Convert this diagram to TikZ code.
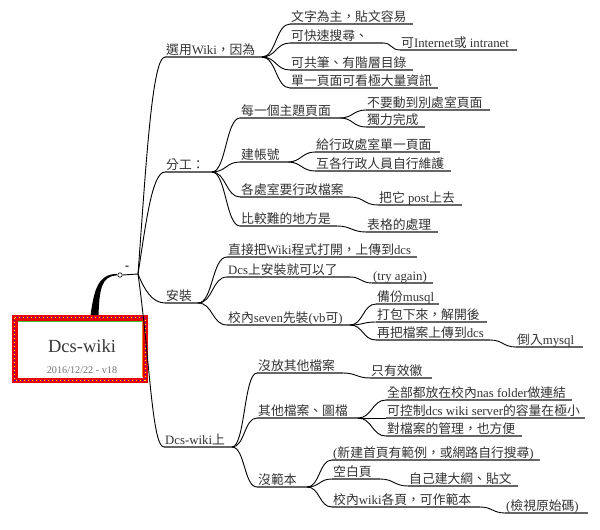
\documentclass[tikz,border=0pt]{standalone}
\usepackage{fontspec}
\setmainfont{Liberation Serif}
\newfontfamily\cjk{Noto Sans CJK TC}
\newcommand\C[1]{{\cjk #1}}
\tikzset{
  lbl/.style={anchor=base west, inner sep=0pt, font=\fontsize{12.8}{14}\selectfont, text=black!80},
  uline/.style={draw=black!60, line width=1.4pt},
  link/.style={draw=black, line width=0.9pt},
}
% name, x start, x end, y underline, text
\newcommand\T[5]{%
  \coordinate (#1-s) at (#2,#4);
  \coordinate (#1-e) at (#3,#4);
  \draw[uline] (#1-s) -- (#1-e);
  \node[lbl] (#1) at (#2+1,#4-2.5) {#5};}
% parent, child, control distance
\newcommand\E[3]{\draw[link] (#1-e) .. controls +(#3,0) and +(-#3,0) .. (#2-s);}
\begin{document}
\begin{tikzpicture}[x=1pt,y=-1pt]
\fill[white] (0,0) rectangle (600,530);
\useasboundingbox (0,0) rectangle (600,530);

% root box
\node[inner sep=0pt, minimum width=136pt, minimum height=68pt] (root) at (80,349) {};
\fill[red!92!black] (root.north west) rectangle (root.south east);
\fill[white] (17.5,320.5) rectangle (142.5,377.5);
\draw[yellow!90!orange, line width=1pt, dash pattern=on 1pt off 3pt] (14.8,317.8) rectangle (145.2,380.2);
\draw[blue!60!violet, line width=1pt, dash pattern=on 1pt off 3pt, dash phase=2pt] (14.8,317.8) rectangle (145.2,380.2);
\draw[green!55!gray, line width=0.6pt] (17.8,320.8) -- (142.2,320.8);
\draw[orange!70!brown, line width=0.8pt] (142.2,320.8) -- (142.2,377.2);
\node[anchor=base, inner sep=0pt, font=\fontsize{18.5}{20}\selectfont, text=black!78] (title) at (82,352) {Dcs-wiki};
\node[anchor=base, inner sep=0pt, font=\fontsize{10.2}{12}\selectfont, text=black!55] (date) at (82,373) {2016/12/22 - v18};

% thick tapered link to hub
\fill[black] (90.5,315) .. controls (94,292) and (97,274) .. (117,273.9) -- (117,275.4) .. controls (101,276) and (99.5,290) .. (98.5,315) -- cycle;
\coordinate (hub) at (138,274);
\node[circle, draw=black, fill=white, inner sep=0pt, minimum size=4.5pt, line width=0.6pt] (knob) at (120,275) {};
\draw[link] (knob.east) -- (hub);
\node[inner sep=0pt, font=\fontsize{12}{12}\selectfont\bfseries] (collapse) at (127,267.5) {-};

% level 1
\T{a}{165}{262}{57}{\C{選用}Wiki\C{，因為}}
\T{b}{165}{212}{172}{\C{分工：}}
\T{c}{165}{198}{303}{\C{安裝}}
\T{d}{164}{232}{447}{Dcs-wiki\C{上}}

\draw[link] (hub) .. controls (146,166) and (152,57) .. (a-s);
\draw[link] (hub) .. controls (146,223) and (152,172) .. (b-s);
\draw[link] (hub) .. controls (144,289) and (152,303) .. (c-s);
\draw[link] (hub) .. controls (150,360) and (152,447) .. (d-s);

% under a
\T{a1}{290}{413}{24}{\C{文字為主，貼文容易}}
\T{a2}{290}{383}{43}{\C{可快速搜尋、}}
\T{a21}{400}{517}{50}{\C{可}Internet\C{或} intranet}
\T{a3}{290}{413}{70}{\C{可共筆、有階層目錄}}
\T{a4}{290}{438}{88}{\C{單一頁面可看極大量資訊}}
\E{a}{a1}{14}\E{a}{a2}{14}\E{a}{a3}{14}\E{a}{a4}{14}
\E{a2}{a21}{9}

% under b
\T{b1}{240}{340}{118}{\C{每一個主題頁面}}
\T{b11}{366}{490}{110}{\C{不要動到別處室頁面}}
\T{b12}{366}{425}{127}{\C{獨力完成}}
\T{b2}{240}{288}{162}{\C{建帳號}}
\T{b21}{315}{440}{152}{\C{給行政處室單一頁面}}
\T{b22}{315}{451}{171}{\C{互各行政人員自行維護}}
\T{b3}{240}{350}{197}{\C{各處室要行政檔案}}
\T{b31}{378}{462}{205}{\C{把它} post\C{上去}}
\T{b4}{240}{337}{226}{\C{比較難的地方是}}
\T{b41}{366}{438}{232}{\C{表格的處理}}
\E{b}{b1}{14}\E{b}{b2}{14}\E{b}{b3}{14}\E{b}{b4}{14}
\E{b1}{b11}{13}\E{b1}{b12}{13}
\E{b2}{b21}{13}\E{b2}{b22}{13}
\E{b3}{b31}{14}
\E{b4}{b41}{14}

% under c
\T{c1}{227}{417}{257}{\C{直接把}Wiki\C{程式打開，上傳到}dcs}
\T{c2}{227}{350}{277}{Dcs\C{上安裝就可以了}}
\T{c21}{372}{433}{283}{(try again)}
\T{c3}{227}{350}{325}{\C{校內}seven\C{先裝}(vb\C{可})}
\T{c31}{376}{439}{304}{\C{備份}musql}
\T{c32}{376}{487}{322}{\C{打包下來，解開後}}
\T{c33}{376}{490}{340}{\C{再把檔案上傳到}dcs}
\T{c331}{516}{583}{347}{\C{倒入}mysql}
\E{c}{c1}{15}\E{c}{c2}{15}\E{c}{c3}{15}
\E{c2}{c21}{11}
\E{c3}{c31}{13}\E{c3}{c32}{13}\E{c3}{c33}{13}
\E{c33}{c331}{13}

% under d
\T{d1}{257}{343}{373}{\C{沒放其他檔案}}
\T{d11}{370}{432}{378}{\C{只有效徽}}
\T{d2}{257}{358}{418}{\C{其他檔案、圖檔}}
\T{d21}{386}{572}{400}{\C{全部都放在校內}nas folder\C{做連結}}
\T{d22}{386}{585}{418}{\C{可控制}dcs wiki server\C{的容量在極小}}
\T{d23}{386}{522}{436}{\C{對檔案的管理，也方便}}
\T{d3}{257}{307}{487}{\C{沒範本}}
\T{d31}{332}{540}{460}{(\C{新建首頁有範例，或網路自行搜尋})}
\T{d32}{332}{380}{479}{\C{空白頁}}
\T{d321}{408}{518}{486}{\C{自己建大綱、貼文}}
\T{d33}{332}{480}{507}{\C{校內}wiki\C{各頁，可作範本}}
\T{d331}{505}{588}{513}{(\C{檢視原始碼})}
\E{d}{d1}{13}\E{d}{d2}{13}\E{d}{d3}{13}
\E{d1}{d11}{13}
\E{d2}{d21}{14}\E{d2}{d22}{14}\E{d2}{d23}{14}
\E{d3}{d31}{13}\E{d3}{d32}{13}\E{d3}{d33}{13}
\E{d32}{d321}{14}
\E{d33}{d331}{12}
\end{tikzpicture}
\end{document}
